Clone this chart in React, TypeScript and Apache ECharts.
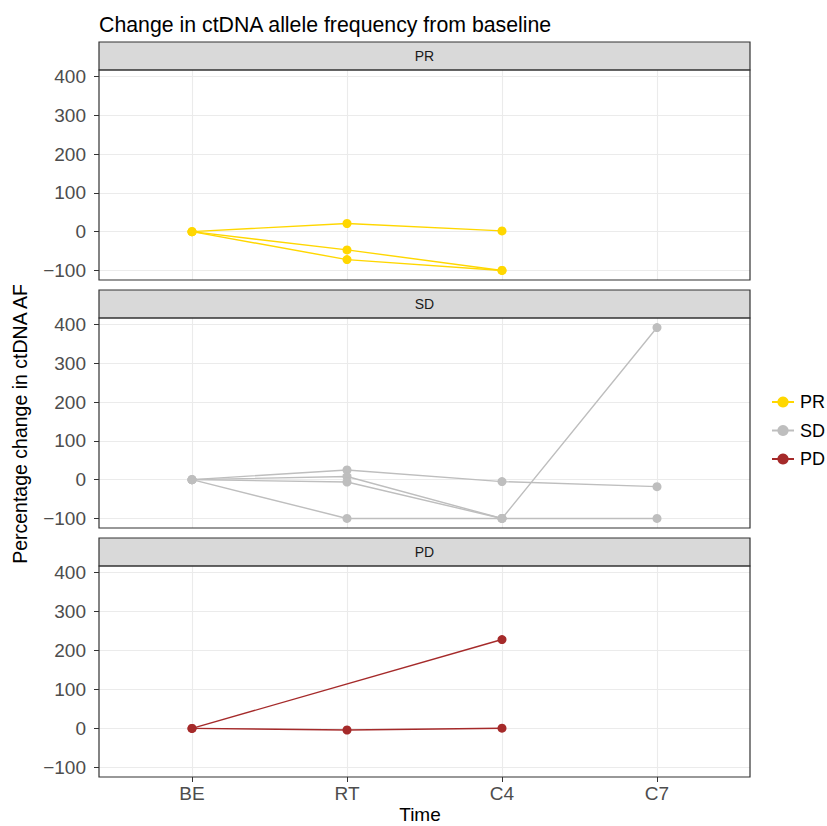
import React, { useEffect, useRef } from 'react';
import * as echarts from 'echarts';

// ---- data ----
const timepoints = ['BE', 'RT', 'C4', 'C7'];
const groups = ['PR', 'SD', 'PD'];
const groupColors = ['#FFD700', '#BEBEBE', '#A52A2A'];
const prPatients: (number | null)[][] = [
  [0, 21, 2, null],
  [0, -47, -100, null],
  [0, -72, -100, null],
];
const sdPatients: (number | null)[][] = [
  [0, 25, -5, -18],
  [0, 8, -100, 392],
  [0, -6, -100, null],
  [0, -100, -100, -100],
];
const pdPatients: (number | null)[][] = [
  [0, null, 228, null],
  [0, -4, 0.5, null],
];
const yTicks = [-100, 0, 100, 200, 300, 400];
const yMin = -124.6;
const yMax = 416.6;
const xMin = 0.4;
const xMax = 4.6;

const groupPatients = [prPatients, sdPatients, pdPatients];

// ---- layout ----
const W = 827;
const H = 826;
const LEFT = 99;
const RIGHT = 750;
const STRIP_H = 28;
const panelTops = [70, 318, 566];
const panelHeights = [210, 210, 211];
const FONT = '"Liberation Sans", Arial, Helvetica, sans-serif';

export default function App() {
  const ref = useRef<HTMLDivElement>(null);
  useEffect(() => {
    document.body.style.margin = '0';
    if (!ref.current) return;
    const chart = echarts.init(ref.current, null, { renderer: 'svg' });
    const pw = RIGHT - LEFT;

    const grids = panelTops.map((t, i) => ({
      left: LEFT,
      top: t,
      width: pw,
      height: panelHeights[i],
      containLabel: false,
      outerBoundsMode: 'none',
    }));

    const xAxes = panelTops.map((_, i) => ({
      type: 'value',
      gridIndex: i,
      min: xMin,
      max: xMax,
      axisLine: { show: false, onZero: false },
      axisTick: {
        show: i === 2,
        length: 5,
        lineStyle: { color: '#333333', width: 1 },
        customValues: timepoints.map((_, k) => k + 1),
      },
      axisLabel: {
        show: i === 2,
        fontFamily: FONT,
        fontSize: 19,
        color: '#4D4D4D',
        margin: 7,
        customValues: timepoints.map((_, k) => k + 1),
        formatter: (v: number) => {
          const r = Math.round(v);
          return Math.abs(v - r) < 1e-6 && r >= 1 && r <= timepoints.length ? timepoints[r - 1] : '';
        },
      },
      splitLine: { show: true, lineStyle: { color: '#EBEBEB', width: 1.1 } },
    }));

    const yAxes = panelTops.map((_, i) => ({
      type: 'value',
      gridIndex: i,
      min: yMin,
      max: yMax,
      axisLine: { show: false, onZero: false },
      axisTick: {
        show: true,
        length: 5,
        lineStyle: { color: '#333333', width: 1 },
        customValues: yTicks,
      },
      axisLabel: {
        fontFamily: FONT,
        fontSize: 19,
        color: '#4D4D4D',
        margin: 13,
        customValues: yTicks,
        formatter: (v: number) => {
          const r = Math.round(v);
          return Math.abs(v - r) < 1e-6 && yTicks.includes(r) ? String(r).replace('-', '\u2212') : '';
        },
      },
      splitLine: { show: true, lineStyle: { color: '#EBEBEB', width: 1.1 } },
    }));

    const series: any[] = [];
    groupPatients.forEach((patients, g) => {
      patients.forEach((vals) => {
        const data = vals
          .map((v, k) => (v == null ? null : [k + 1, v]))
          .filter((d) => d != null);
        series.push({
          type: 'line',
          name: groups[g],
          xAxisIndex: g,
          yAxisIndex: g,
          data,
          symbol: 'circle',
          symbolSize: 9,
          showSymbol: true,
          lineStyle: { color: groupColors[g], width: 1.4 },
          itemStyle: { color: groupColors[g] },
          emphasis: { disabled: true },
          silent: true,
          z: 5,
        });
      });
    });

    const graphics: any[] = [];
    panelTops.forEach((t, i) => {
      graphics.push({
        type: 'rect',
        shape: { x: LEFT, y: t - STRIP_H, width: pw, height: STRIP_H },
        style: { fill: '#D9D9D9', stroke: '#333333', lineWidth: 1.2 },
        z: 10,
      });
      graphics.push({
        type: 'text',
        x: LEFT + pw / 2,
        y: t - STRIP_H / 2,
        style: {
          text: groups[i],
          fontFamily: FONT,
          fontSize: 14,
          fill: '#1A1A1A',
          align: 'center',
          verticalAlign: 'middle',
        },
        z: 11,
      });
      graphics.push({
        type: 'rect',
        shape: { x: LEFT, y: t, width: pw, height: panelHeights[i] },
        style: { fill: 'none', stroke: '#333333', lineWidth: 1.2 },
        z: 10,
        silent: true,
      });
    });
    graphics.push({
      type: 'text',
      x: 20,
      y: 424,
      rotation: Math.PI / 2,
      style: {
        text: 'Percentage change in ctDNA AF',
        fontFamily: FONT,
        fontSize: 19.5,
        fill: '#000000',
        align: 'center',
        verticalAlign: 'middle',
      },
      z: 11,
    });
    graphics.push({
      type: 'text',
      x: 420,
      y: 814,
      style: {
        text: 'Time',
        fontFamily: FONT,
        fontSize: 19,
        fill: '#000000',
        align: 'center',
        verticalAlign: 'middle',
      },
      z: 11,
    });

    chart.setOption({
      animation: false,
      backgroundColor: '#FFFFFF',
      title: {
        text: 'Change in ctDNA allele frequency from baseline',
        left: 94,
        top: 9,
        textStyle: { fontFamily: FONT, fontSize: 21.3, fontWeight: 'normal', color: '#000000' },
      },
      legend: {
        data: groups,
        orient: 'vertical',
        left: 766,
        top: 388,
        itemWidth: 22,
        itemHeight: 14,
        itemGap: 10.5,
        textStyle: { fontFamily: FONT, fontSize: 18, color: '#000000', padding: [0, 0, 0, 1] },
        selectedMode: false,
      },
      grid: grids,
      xAxis: xAxes,
      yAxis: yAxes,
      series,
      graphic: graphics,
    });
    return () => chart.dispose();
  }, []);
  return <div ref={ref} style={{ width: W, height: H }} />;
}
